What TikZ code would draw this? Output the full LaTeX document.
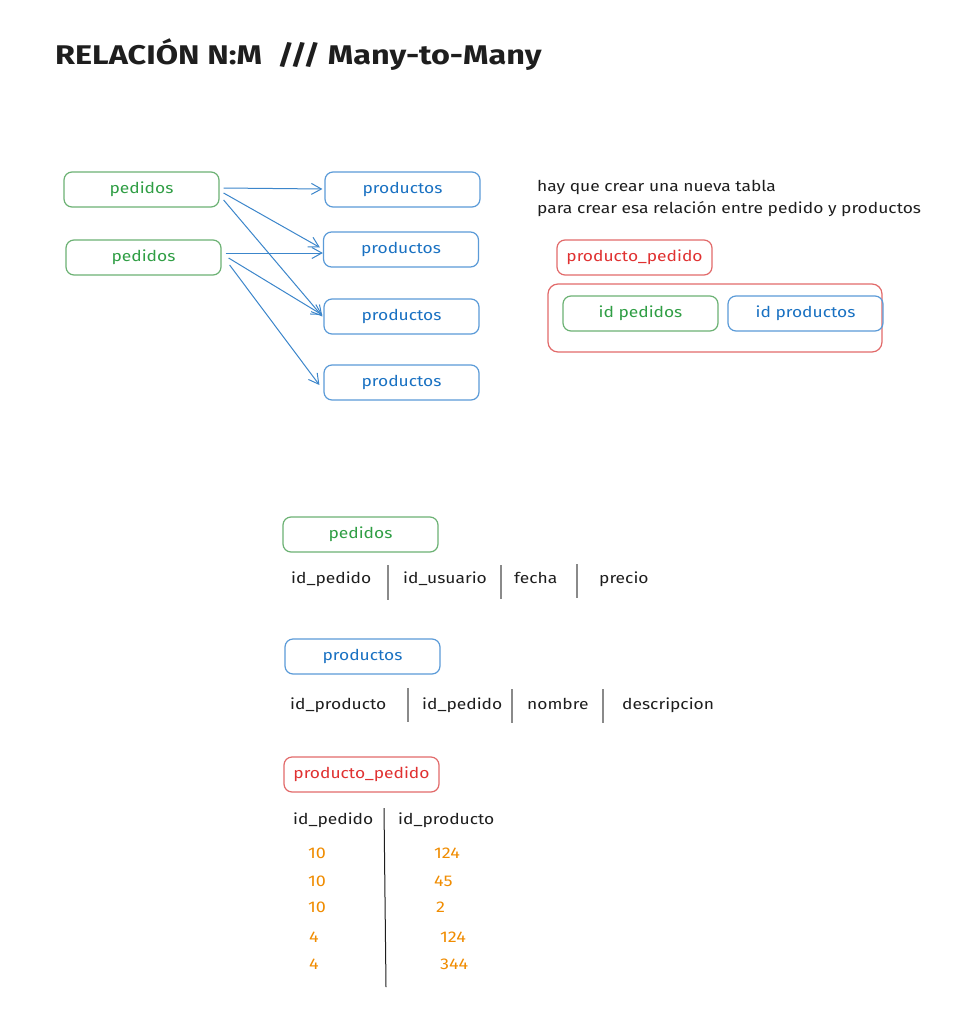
\documentclass[tikz,border=0pt]{standalone}
\usepackage{fontspec}
\setmainfont[FakeStretch=1.16]{Fira Sans}
\newfontfamily\titlefont[FakeStretch=1.2]{Fira Sans}
\usetikzlibrary{arrows.meta,calc}
\definecolor{cgreen}{HTML}{2F9E44}
\definecolor{gstroke}{HTML}{6CB274}
\definecolor{cblue}{HTML}{1971C2}
\definecolor{bstroke}{HTML}{5B9BD8}
\definecolor{cred}{HTML}{E03131}
\definecolor{rstroke}{HTML}{E26A6A}
\definecolor{corange}{HTML}{F08C00}
\definecolor{cink}{HTML}{1E1E1E}
\definecolor{cgray}{HTML}{8A8A8A}
\tikzset{
  box/.style={draw, rounded corners=8pt, minimum width=155pt, minimum height=35pt, line width=1.2pt, inner sep=0pt, font=\fontsize{15}{18}\selectfont},
  gbox/.style={box, draw=gstroke, text=cgreen},
  bbox/.style={box, draw=bstroke, text=cblue},
  rbox/.style={box, draw=rstroke, text=cred},
  arr/.style={-{Straight Barb[length=10pt,width=11pt,line width=1pt]}, draw=cblue!85, line width=1pt},
  txt/.style={anchor=west, inner sep=0pt, text=cink, font=\fontsize{15}{18}\selectfont},
  num/.style={anchor=west, inner sep=0pt, text=corange, font=\fontsize{15.5}{18}\selectfont},
  sep/.style={draw=cgray, line width=1.6pt},
  sepdark/.style={draw=cink, line width=1pt}
}
\begin{document}
\begin{tikzpicture}[x=1pt,y=-1pt]
\useasboundingbox (0,0) rectangle (978,1012);
\fill[white] (0,0) rectangle (978,1012);

% title
\node[anchor=west, inner sep=0pt, text=cink, font=\titlefont\fontsize{27}{30}\selectfont\bfseries] (title) at (55,55) {RELACIÓN N:M\ \ /// Many-to-Many};

% top graph
\node[gbox] (p1) at (141.5,189.5) {pedidos};
\node[gbox] (p2) at (143.5,257.5) {pedidos};
\node[bbox] (q1) at (402.5,189.5) {productos};
\node[bbox] (q2) at (401,249.5) {productos};
\node[bbox] (q3) at (401.5,316.5) {productos};
\node[bbox] (q4) at (401.5,382.5) {productos};

\draw[arr] ($(p1.east)+(4,-1.5)$) -- ($(q1.west)+(-2,-0.5)$);
\draw[arr] ($(p1.east)+(4,3.5)$) -- ($(q2.west)+(-3,-2)$);
\draw[arr] ($(p1.east)+(4,10.5)$) -- ($(q3.west)+(-1,0)$);
\draw[arr] ($(p2.east)+(4,-4.5)$) -- ($(q2.west)+(0,3.5)$);
\draw[arr] ($(p2.east)+(7,0.5)$) -- ($(q3.west)+(-1,-1.5)$);
\draw[arr] ($(p2.east)+(8,7.5)$) -- ($(q4.west)+(-4,2.5)$);

% right note
\node[txt] (note1) at (537,187) {hay que crear una nueva tabla};
\node[txt] (note2) at (537,209) {para crear esa relación entre pedido y productos};
\node[rbox] (pp) at (634.5,257.5) {producto\_pedido};
\node[box, draw=rstroke, minimum width=334pt, minimum height=68pt, rounded corners=10pt] (big) at (715,318) {};
\node[gbox] (idp) at (640.5,313.5) {id pedidos};
\node[bbox] (idq) at (805.5,313.5) {id productos};

% table pedidos
\node[gbox] (tp) at (360.5,534.5) {pedidos};
\node[txt] (c11) at (291,579) {id\_pedido};
\node[txt] (c12) at (403,579) {id\_usuario};
\node[txt] (c13) at (514,578) {fecha};
\node[txt] (c14) at (599,579) {precio};
\coordinate (s11a) at (388,565); \coordinate (s11b) at (388,600);
\coordinate (s12a) at (501,565); \coordinate (s12b) at (501,599);
\coordinate (s13a) at (577,564); \coordinate (s13b) at (577,598);
\draw[sep] (s11a) -- (s11b);
\draw[sep] (s12a) -- (s12b);
\draw[sep] (s13a) -- (s13b);

% table productos
\node[bbox] (tq) at (362.5,656.5) {productos};
\node[txt] (c21) at (290,705) {id\_producto};
\node[txt] (c22) at (422,705) {id\_pedido};
\node[txt] (c23) at (527,704) {nombre};
\node[txt] (c24) at (622,705) {descripcion};
\coordinate (s21a) at (408,688); \coordinate (s21b) at (408,722);
\coordinate (s22a) at (512,689); \coordinate (s22b) at (512,723);
\coordinate (s23a) at (603,689); \coordinate (s23b) at (603,723);
\draw[sep] (s21a) -- (s21b);
\draw[sep] (s22a) -- (s22b);
\draw[sep] (s23a) -- (s23b);

% table producto_pedido
\node[rbox] (tr) at (361.5,774.5) {producto\_pedido};
\node[txt] (c31) at (293,820) {id\_pedido};
\node[txt] (c32) at (398,820) {id\_producto};
\coordinate (s31a) at (384,808); \coordinate (s31b) at (386,987);
\draw[sepdark] (s31a) -- (s31b);

\node[num] (a1) at (308,853) {10};
\node[num] (a2) at (308,881) {10};
\node[num] (a3) at (308,907) {10};
\node[num] (a4) at (309,937) {4};
\node[num] (a5) at (309,964) {4};
\node[num] (b1) at (434,853) {124};
\node[num] (b2) at (434,881) {45};
\node[num] (b3) at (436,907) {2};
\node[num] (b4) at (440,937) {124};
\node[num] (b5) at (440,964) {344};
\end{tikzpicture}
\end{document}
